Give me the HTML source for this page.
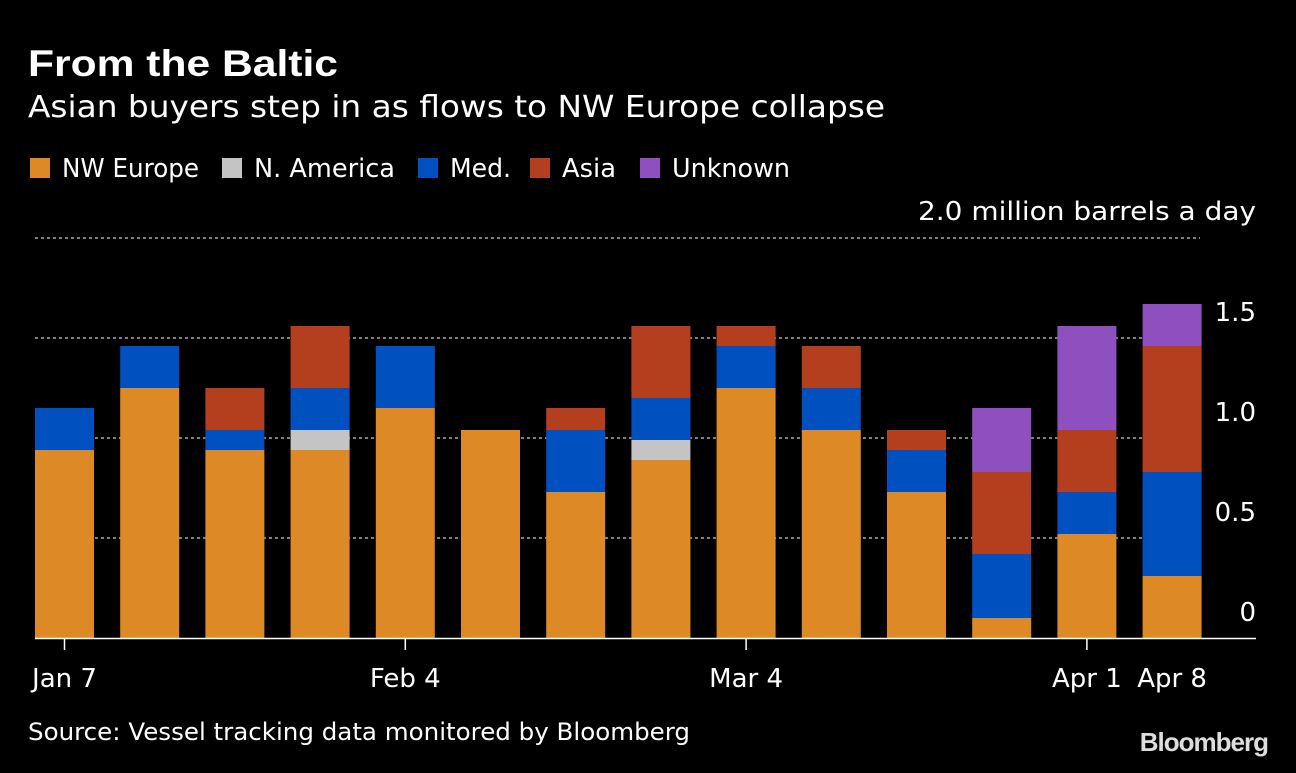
<!DOCTYPE html>
<html><head><meta charset="utf-8"><style>
body{margin:0;background:#000;width:1296px;height:768px;overflow:hidden;font-family:"Liberation Sans",sans-serif;color:#fff}
svg text{font-family:"DejaVu Sans","Liberation Sans",sans-serif}
</style></head><body>
<svg id="chart" width="1296" height="768" xmlns="http://www.w3.org/2000/svg">
<text x="28" y="76" font-size="37" font-weight="bold" fill="#fff" textLength="310" lengthAdjust="spacingAndGlyphs" style="font-family:'Liberation Sans',sans-serif">From the Baltic</text>
<text x="28" y="117" font-size="30" fill="#fff" textLength="857" lengthAdjust="spacingAndGlyphs">Asian buyers step in as flows to NW Europe collapse</text>
<g id="legend"></g>
<text x="1256" y="220" font-size="26" fill="#fff" text-anchor="end" textLength="338" lengthAdjust="spacingAndGlyphs">2.0 million barrels a day</text>
<g id="grid"></g><g id="bars"></g><g id="axes"></g>
<text x="28" y="740" font-size="24" fill="#fff" textLength="662" lengthAdjust="spacingAndGlyphs">Source: Vessel tracking data monitored by Bloomberg</text>
<text x="1268" y="751" font-size="26" font-weight="bold" fill="#ddd" text-anchor="end" style="font-family:'Liberation Sans',sans-serif;letter-spacing:-1px">Bloomberg</text>
</svg>
<script>
const seriesNames=["NW Europe","N. America","Med.","Asia","Unknown"];
const colors=["#dd8a26","#c4c4c4","#0050c0","#b33f1e","#8f50bf"];
const nwEurope=[0.94,1.25,0.94,0.94,1.15,1.04,0.73,0.89,1.25,1.04,0.73,0.10,0.52,0.31];
const nAmerica=[0,0,0,0.10,0,0,0,0.10,0,0,0,0,0,0];
const med=[0.21,0.21,0.10,0.21,0.31,0,0.31,0.21,0.21,0.21,0.21,0.32,0.21,0.52];
const asia=[0,0,0.21,0.31,0,0,0.11,0.36,0.10,0.21,0.10,0.41,0.31,0.63];
const unknown=[0,0,0,0,0,0,0,0,0,0,0,0.32,0.52,0.21];
const yTicks=[0,0.5,1.0,1.5,2.0];
const yTickLabels=["0","0.5","1.0","1.5",""];
const xLabels=[[0,"Jan 7"],[4,"Feb 4"],[8,"Mar 4"],[12,"Apr 1"],[13,"Apr 8"]];
const NS="http://www.w3.org/2000/svg";
const y=v=>638-v*200;
const xc=i=>64.5+i*85.2;
function mk(tag,attrs,parent){const e=document.createElementNS(NS,tag);for(const k in attrs)e.setAttribute(k,attrs[k]);parent.appendChild(e);return e;}
const grid=document.getElementById('grid'),bars=document.getElementById('bars'),axes=document.getElementById('axes'),legend=document.getElementById('legend');
const lxs=[30,222,418,530,640];
const lwid=[137,141,61,54,118];
seriesNames.forEach((n,i)=>{
 const lx=lxs[i];
 const r=mk('rect',{x:lx,y:158,width:20,height:20,fill:colors[i]},legend);
 
 
 const t=mk('text',{x:lx+32,y:177,'font-size':26,fill:'#fff',textLength:lwid[i],lengthAdjust:'spacingAndGlyphs'},legend);t.textContent=n;
 
 
});
yTicks.forEach((v,i)=>{
 if(v>0){const l=mk('line',{x1:35,x2:1200,y1:y(v),y2:y(v),stroke:'#aaa','stroke-width':1.5,'stroke-dasharray':'3,3'},grid);
 
 }
 if(yTickLabels[i]){const t=mk('text',{x:1256,y:y(v)-17,'font-size':26,fill:'#fff','text-anchor':'end'},axes);t.textContent=yTickLabels[i];
 
 }
});
const all=[nwEurope,nAmerica,med,asia,unknown];
nwEurope.forEach((_,i)=>{
 let base=0;
 all.forEach((s,k)=>{const v=s[i];if(v>0){
  const r=mk('rect',{x:xc(i)-29.5,y:y(base+v),width:59,height:v*200,fill:colors[k]},bars);
  
  
 }base+=v;});
});
const ax=mk('line',{x1:35,x2:1256,y1:638.5,y2:638.5,stroke:'#fff','stroke-width':1.5},axes);


xLabels.forEach(([i,lab],j)=>{
 if(j<4){const tk=mk('line',{x1:xc(i),x2:xc(i),y1:638,y2:650,stroke:'#fff','stroke-width':1.5},axes);
 
 }
 const t=mk('text',{x:xc(i),y:687,'font-size':26,fill:'#fff','text-anchor':'middle'},axes);t.textContent=lab;
 
 
});
</script>
</body></html>
